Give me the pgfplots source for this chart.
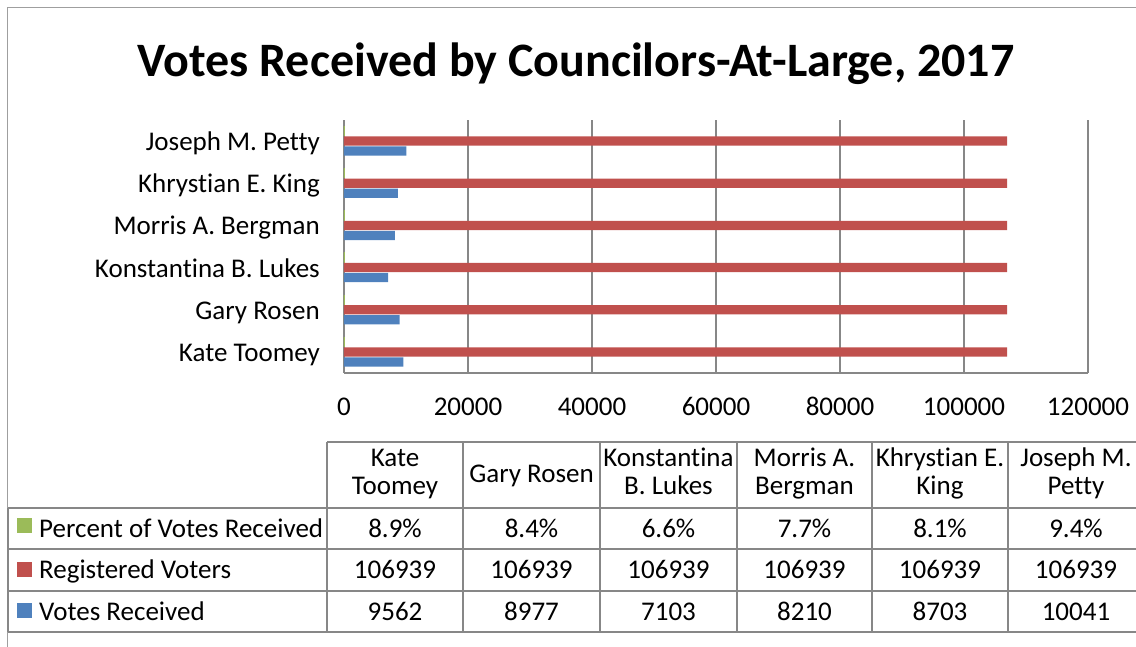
\documentclass[border=0pt]{standalone}
\usepackage{pgfplots}
\pgfplotsset{compat=1.18}
\usepackage{fontspec}
\setmainfont[Ligatures=NoCommon]{Carlito}
\definecolor{xlblue}{HTML}{4F81BD}
\definecolor{xlred}{HTML}{C0504D}
\definecolor{xlgreen}{HTML}{9BBB59}
\definecolor{gridgrey}{HTML}{878787}
\newcommand\bodyfont{\fontsize{27}{31}\selectfont}
\begin{document}
\begin{tikzpicture}
\useasboundingbox (0,0) rectangle (1136pt,646pt);
\clip (0,0) rectangle (1136pt,646pt);
\begin{axis}[
  at={(344pt,273pt)}, anchor=south west,
  scale only axis, width=744pt, height=253pt,
  xbar, bar width=9.3pt,
  xmin=0, xmax=120000, ymin=-0.5, ymax=5.5,
  xtick={0,20000,40000,60000,80000,100000,120000},
  ytick={0,1,2,3,4,5},
  yticklabels={Kate Toomey, Gary Rosen, Konstantina B. Lukes, Morris A. Bergman, Khrystian E. King, Joseph M. Petty},
  scaled x ticks=false,
  xticklabel style={font=\bodyfont, anchor=base, inner sep=0pt, yshift=-43pt,
    /pgf/number format/fixed, /pgf/number format/1000 sep={}, /pgf/number format/assume math mode=true},
  yticklabel style={font=\bodyfont, anchor=base east, inner sep=0pt, xshift=-24pt, yshift=-9.5pt},
  major tick length=0pt,
  axis x line*=bottom, axis y line*=left,
  axis line style={draw=gridgrey, line width=2.7pt, -},
  xmajorgrids, grid style={draw=gridgrey, line width=2.7pt},
]
\addplot[fill=xlgreen, draw=xlgreen, line width=1pt, bar shift=10pt] coordinates {(0.089,0) (0.084,1) (0.066,2) (0.077,3) (0.081,4) (0.094,5)};
\addplot[fill=xlred, draw=none, bar shift=0pt] coordinates {(106939,0) (106939,1) (106939,2) (106939,3) (106939,4) (106939,5)};
\addplot[fill=xlblue, draw=none, bar shift=-10pt] coordinates {(9562,0) (8977,1) (7103,2) (8210,3) (8703,4) (10041,5)};
\end{axis}
\begin{scope}[x=1pt, y=-1pt, yshift=646pt]
  % outer border
  \draw[gridgrey!80, line width=1pt] (7,700) -- (7,8) -- (1200,8);
  % title
  \node[anchor=base, inner sep=0pt, font=\fontsize{48}{58}\selectfont\bfseries] at (576,77) {Votes Received by Councilors-At-Large, 2017};
  % table lines
  \begin{scope}[draw=gridgrey, line width=2.7pt]
  \draw (327,442) -- (1200,442);
  \foreach \yy in {508,549,591,632} { \draw (8,\yy) -- (1200,\yy); }
  \draw (8,508) -- (8,632);
  \foreach \xx in {327,463,600,737,872,1008,1144} { \draw (\xx,442) -- (\xx,632); }
  \end{scope}
  % headers
  \begin{scope}[every node/.style={anchor=base, inner sep=0pt, font=\bodyfont}]
  \node at (395,467) {Kate}; \node at (395,495) {Toomey};
  \node at (531.5,483) {Gary Rosen};
  \node at (668.5,467) {Konstantina}; \node at (668.5,495) {B. Lukes};
  \node at (804.5,467) {Morris A.}; \node at (804.5,495) {Bergman};
  \node at (940,467) {Khrystian E.}; \node at (940,495) {King};
  \node at (1076,467) {Joseph M.}; \node at (1076,495) {Petty};
  % rows
  \foreach \xx/\pa/\pb/\pc in {395/8.9\%/106939/9562, 531.5/8.4\%/106939/8977, 668.5/6.6\%/106939/7103, 804.5/7.7\%/106939/8210, 940/8.1\%/106939/8703, 1076/9.4\%/106939/10041} {
    \node at (\xx,537) {\pa};
    \node at (\xx,578) {\pb};
    \node at (\xx,620) {\pc};
  }
  \end{scope}
  % legend column
  \fill[xlgreen] (17,518) rectangle (32,533);
  \fill[xlred] (17,562) rectangle (32,577);
  \fill[xlblue] (17,603) rectangle (32,618);
  \begin{scope}[every node/.style={anchor=base west, inner sep=0pt, font=\bodyfont}]
  \node at (39,537) {Percent of Votes Received};
  \node at (39,578) {Registered Voters};
  \node at (39,620) {Votes Received};
  \end{scope}
\end{scope}
\end{tikzpicture}
\end{document}
